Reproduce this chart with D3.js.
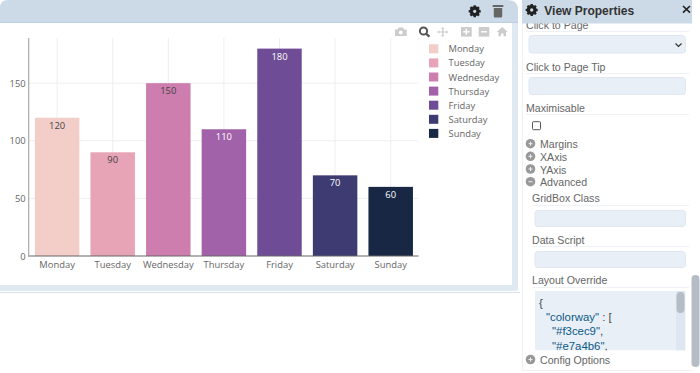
<!DOCTYPE html>
<html>
<head>
<meta charset="utf-8">
<script src="https://d3js.org/d3.v7.min.js"></script>
<style>
  html, body { margin: 0; padding: 0; background: #fff; overflow: hidden; }
  svg { display: block; }
  .ui { font-family: "Liberation Sans", Arial, sans-serif; font-size: 10.6px; fill: #666; }
  .plot text { font-family: "Open Sans", sans-serif; font-size: 9.4px; }
</style>
</head>
<body>
<script>
const days = ["Monday", "Tuesday", "Wednesday", "Thursday", "Friday", "Saturday", "Sunday"];
const counts = [120, 90, 150, 110, 180, 70, 60];
const colorway = ["#f3cec9", "#e7a4b6", "#cd7eaf", "#a262a9", "#6f4d96", "#3d3b72", "#182844"];
const labelColors = ["#444", "#444", "#444", "#fff", "#fff", "#fff", "#fff"];
const yTicks = [0, 50, 100, 150];
const yMax = 189.2;

const svg = d3.select("body").append("svg").attr("width", 700).attr("height", 373);

// ---- left card
svg.append("rect").attr("x", 0).attr("y", 285).attr("width", 517).attr("height", 6).attr("fill", "#e0e8f2");
svg.append("rect").attr("x", 0).attr("y", 292).attr("width", 520).attr("height", 1).attr("fill", "#d8e2ee");
svg.append("rect").attr("x", 512).attr("y", 20).attr("width", 6).attr("height", 270).attr("fill", "#e0e8f2");
svg.append("path").attr("d", "M0,23V8Q0,0,8,0H508Q518,0,518,10V23Z").attr("fill", "#ccd9e7");
svg.append("rect").attr("x", 0).attr("y", 22).attr("width", 518).attr("height", 1).attr("fill", "#bccee3");

// ---- the chart
const x = d3.scaleBand().domain(days).range([29.3, 418.5]).paddingInner(0.2).paddingOuter(0.1);
const y = d3.scaleLinear().domain([0, yMax]).range([256, 38]);
const plot = svg.append("g").attr("class", "plot");

plot.append("g").selectAll("line").data(days).join("line")
    .attr("x1", d => x(d) + x.bandwidth() / 2).attr("x2", d => x(d) + x.bandwidth() / 2)
    .attr("y1", y(yMax)).attr("y2", y(0))
    .attr("stroke", "#eee");
plot.append("g").selectAll("line").data(yTicks.slice(1)).join("line")
    .attr("x1", 29).attr("x2", 418.5)
    .attr("y1", d => y(d)).attr("y2", d => y(d))
    .attr("stroke", "#eee");

plot.selectAll("rect.bar").data(days).join("rect")
    .attr("class", "bar")
    .attr("x", d => x(d))
    .attr("y", (d, i) => y(counts[i]))
    .attr("width", x.bandwidth())
    .attr("height", (d, i) => y(0) - y(counts[i]))
    .attr("fill", (d, i) => colorway[i]);

plot.selectAll("text.val").data(days).join("text")
    .attr("class", "val")
    .attr("x", d => x(d) + x.bandwidth() / 2)
    .attr("y", (d, i) => y(counts[i]) + 11)
    .attr("text-anchor", "middle")
    .attr("fill", (d, i) => labelColors[i])
    .text((d, i) => counts[i]);

const xAxis = plot.append("g").attr("transform", "translate(0,256)")
    .call(d3.axisBottom(x).tickSize(0).tickPadding(5));
xAxis.select(".domain").attr("stroke", "#666").attr("stroke-width", 1.2).attr("d", "M28,0H418.5");
xAxis.selectAll("text").attr("fill", "#666").style("font-size", "9.4px").style("font-family", "Open Sans");

const yAxis = plot.append("g").attr("transform", "translate(28.7,0)")
    .call(d3.axisLeft(y).tickValues(yTicks).tickSize(0).tickPadding(3));
yAxis.select(".domain").attr("stroke", "#aaa").attr("stroke-width", 1.2).attr("d", "M0,38V256");
yAxis.selectAll("text").attr("fill", "#666").style("font-size", "9.4px").style("font-family", "Open Sans");

// legend
const legend = plot.append("g").selectAll("g").data(days).join("g")
    .attr("transform", (d, i) => `translate(429,${44.3 + i * 14.1})`);
legend.append("rect").attr("width", 9.3).attr("height", 9).attr("fill", (d, i) => colorway[i]);
legend.append("text").attr("x", 19.5).attr("y", 8).attr("fill", "#666").text(d => d);

// ---- header + modebar icons
const gear = (cx, cy, r, col) => {
  const g = svg.append("g").attr("transform", `translate(${cx},${cy})`);
  g.append("circle").attr("r", r * 0.55).attr("fill", "none").attr("stroke", col).attr("stroke-width", r * 0.55);
  d3.range(8).forEach(i => g.append("rect")
      .attr("x", -r * 0.2).attr("y", -r).attr("width", r * 0.4).attr("height", r * 0.4)
      .attr("fill", col).attr("transform", `rotate(${i * 45})`));
};
gear(474.7, 11.3, 6, "#222");
svg.append("path").attr("d", "M493.8,8H502.2V16.5Q502.2,17.5,501,17.5H495Q493.8,17.5,493.8,16.5ZM492.7,5H503.3V7H492.7Z").attr("fill", "#666");

svg.append("path").attr("d", "M395,29.5H397.5L398.5,27.5H403L404,29.5H406.7V36H395Z").attr("fill", "#ccc");
svg.append("circle").attr("cx", 400.8).attr("cy", 32.5).attr("r", 2).attr("fill", "#fff");
svg.append("circle").attr("cx", 423.5).attr("cy", 31).attr("r", 3.6).attr("fill", "none").attr("stroke", "#555").attr("stroke-width", 2);
svg.append("line").attr("x1", 426).attr("y1", 33.7).attr("x2", 429.5).attr("y2", 36.7).attr("stroke", "#555").attr("stroke-width", 2.2);
svg.append("path").attr("d", "M442.8,28V36M438.5,32H447").attr("stroke", "#ccc").attr("stroke-width", 1.2);
svg.append("path").attr("d", "M442.8,27L441,29H444.6ZM442.8,37L441,35H444.6ZM437.3,32L439.3,30.2V33.8ZM448.3,32L446.3,30.2V33.8Z").attr("fill", "#ccc");
svg.append("rect").attr("x", 461).attr("y", 27).attr("width", 10.7).attr("height", 9.6).attr("fill", "#ccc");
svg.append("path").attr("d", "M463.2,31.8H469.5M466.3,28.8V34.8").attr("stroke", "#fff").attr("stroke-width", 1.4);
svg.append("rect").attr("x", 478.7).attr("y", 27).attr("width", 10.6).attr("height", 9.6).attr("fill", "#ccc");
svg.append("path").attr("d", "M481,31.8H487").attr("stroke", "#fff").attr("stroke-width", 1.4);
svg.append("path").attr("d", "M502.2,27L507.7,32H506V36.3H503.5V33.5H501V36.3H498.5V32H496.7Z").attr("fill", "#ccc");

// ---- properties panel
svg.append("rect").attr("x", 522).attr("y", 0).attr("width", 178).attr("height", 373).attr("fill", "#fff");
svg.append("rect").attr("x", 522).attr("y", 0).attr("width", 1).attr("height", 370).attr("fill", "#eef2f7");
svg.append("rect").attr("x", 522).attr("y", 370).attr("width", 170).attr("height", 1).attr("fill", "#eef2f7");

const ui = (s, tx, ty) => svg.append("text").attr("class", "ui").attr("x", tx).attr("y", ty).text(s);
const rule = (x1, x2, ry) => svg.append("line").attr("x1", x1).attr("x2", x2).attr("y1", ry).attr("y2", ry).attr("stroke", "#eef2f7");
const field = (fx, fy, fw, fh) => svg.append("rect").attr("x", fx).attr("y", fy).attr("width", fw).attr("height", fh)
    .attr("rx", 3).attr("fill", "#e9eff7").attr("stroke", "#e0e7f1");
const bullet = (cy, s, open) => {
  svg.append("circle").attr("cx", 530.5).attr("cy", cy).attr("r", 4.8).attr("fill", "#999");
  svg.append("path").attr("d", open ? `M528.5,${cy}H532.5` : `M528.5,${cy}H532.5M530.5,${cy - 2}V${cy + 2}`).attr("stroke", "#eee").attr("stroke-width", 1);
  ui(s, 540, cy + 4.6);
};

ui("Click to Page", 526, 29);
rule(526, 689, 31.5);
field(529, 35.5, 156.5, 17.5);
svg.append("path").attr("d", "M675.5,43.5L678.5,46.5L681.5,43.5").attr("fill", "none").attr("stroke", "#333").attr("stroke-width", 1.2);
ui("Click to Page Tip", 526, 70.7);
rule(526, 689, 73.5);
field(529, 77.5, 156.5, 17);
ui("Maximisable", 526, 111.7);
rule(526, 689, 114.5);
svg.append("rect").attr("x", 532.5).attr("y", 121.7).attr("width", 8).attr("height", 8).attr("rx", 1).attr("fill", "#fff").attr("stroke", "#555");

bullet(143.7, "Margins");
bullet(156.3, "XAxis");
bullet(169, "YAxis");
bullet(181.7, "Advanced", true);

ui("GridBox Class", 532, 202.3);
rule(532, 689, 205.5);
field(535, 210.5, 150.5, 16);
ui("Data Script", 532, 243.7);
rule(532, 689, 246.5);
field(535, 251.5, 150.5, 16);
ui("Layout Override", 532, 284.3);
rule(532, 689, 287.5);

// code box, clipped at its bottom edge
svg.append("clipPath").attr("id", "code-clip").append("rect").attr("x", 535).attr("y", 291).attr("width", 150.5).attr("height", 59.5);
const code = svg.append("g").attr("clip-path", "url(#code-clip)");
code.append("rect").attr("x", 535).attr("y", 291).attr("width", 150.5).attr("height", 59.5).attr("fill", "#e9eff7");
code.append("rect").attr("x", 676).attr("y", 291).attr("width", 9.5).attr("height", 59.5).attr("fill", "#dde6f1");
code.append("rect").attr("x", 676.5).attr("y", 292).attr("width", 8).attr("height", 21).attr("rx", 4).attr("fill", "#b5bcc6");
const codeLine = (parts, tx, ty) => {
  const t = code.append("text").attr("class", "ui").attr("x", tx).attr("y", ty).style("font-size", "11.4px");
  parts.forEach(p => t.append("tspan").style("fill", p[1]).text(p[0]));
};
codeLine([["{", "#444"]], 539, 307);
codeLine([["\"colorway\"", "#0b5a86"], [" : [", "#444"]], 546, 321);
codeLine([["\"#f3cec9\"", "#0b5a86"], [",", "#444"]], 552, 335);
codeLine([["\"#e7a4b6\"", "#0b5a86"], [",", "#444"]], 552, 350);

bullet(359.5, "Config Options");
svg.append("rect").attr("x", 691.5).attr("y", 275).attr("width", 8).attr("height", 92).attr("rx", 4).attr("fill", "#b5bcc6");

// panel header sits over the scrolled content
svg.append("rect").attr("x", 522).attr("y", 0).attr("width", 170).attr("height", 23.5).attr("fill", "#ccd9e7");
gear(531.7, 10, 6, "#222");
svg.append("text").attr("class", "ui").attr("x", 544.3).attr("y", 14.5)
    .style("font-size", "12px").style("font-weight", "bold").style("fill", "#333").text("View Properties");
svg.append("path").attr("d", "M683,6L690,12.7M690,6L683,12.7").attr("stroke", "#222").attr("stroke-width", 1.6);
</script>
</body>
</html>
